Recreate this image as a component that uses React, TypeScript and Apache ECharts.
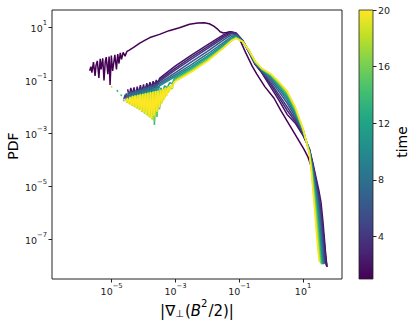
import React, { useEffect, useRef } from "react";
import * as echarts from "echarts";

// All values are log10 of the plotted quantities.
const X_TICKS = [-5, -3, -1, 1];
const Y_TICKS = [-7, -5, -3, -1, 1];
const CBAR_TICKS = [4, 8, 12, 16, 20];
const TIMES = [1, 2, 3, 4, 6, 8, 10, 12, 14, 16, 18, 20];

const X_MAIN = [-3.5, -3.0, -2.5, -2.0, -1.5, -1.25, -1.1, -0.9, -0.7, -0.5, -0.3, 0, 0.25, 0.5, 0.75, 1.0, 1.2];

const T1 = [[-5.69,-0.65],[-5.65,-0.5],[-5.62,-0.72],[-5.57,-0.33],[-5.52,-0.85],[-5.49,-0.45],[-5.45,-0.28],[-5.4,-0.92],[-5.36,-0.2],[-5.33,-0.6],[-5.28,-0.18],[-5.24,-1.02],[-5.2,-0.3],[-5.17,-0.14],[-5.12,-0.78],[-5.08,-0.12],[-5.05,-1.19],[-5.01,-0.08],[-4.97,-0.66],[-4.94,-0.4],[-4.9,-0.05],[-4.85,-0.6],[-4.81,-0.02],[-4.77,-0.38],[-4.73,0.02],[-4.69,-0.22],[-4.64,0.04],[-4.58,-0.1],[-4.52,0.08],[-4.46,0.12],[-4.3,0.24],[-4.13,0.38],[-3.95,0.5],[-3.8,0.6],[-3.5,0.72],[-3.2,0.86],[-2.875,0.97],[-2.56,1.1],[-2.3,1.15],[-2.1,1.16],[-1.94,1.12],[-1.8,1.03],[-1.69,0.93],[-1.6,0.82],[-1.5,0.77],[-1.4,0.79],[-1.3,0.82],[-1.2,0.78],[-1.0,0.57],[-0.8,0.03],[-0.6,-0.47],[-0.45,-0.78],[-0.2,-1.25],[0.09,-1.69],[0.3,-2.15],[0.51,-2.57],[0.75,-3.05],[1.03,-3.62],[1.15,-3.9],[1.25,-4.25],[1.35,-4.75],[1.45,-5.3],[1.55,-5.9],[1.62,-6.6],[1.68,-7.3],[1.72,-7.8],[1.75,-8.05]];

const Y_T2 = [-0.94,-0.47,-0.06,0.32,0.70,0.82,0.77,0.50,0.05,-0.42,-0.72,-1.30,-1.78,-2.30,-2.62,-3.10,-3.60];
const Y_T3 = [-1.00,-0.55,-0.14,0.25,0.64,0.79,0.76,0.50,0.06,-0.41,-0.70,-1.20,-1.67,-2.15,-2.55,-3.06,-3.62];
const Y_T4 = [-1.05,-0.62,-0.21,0.18,0.58,0.76,0.74,0.50,0.07,-0.40,-0.68,-1.12,-1.57,-2.02,-2.47,-3.02,-3.64];
const Y_T6 = [-1.12,-0.72,-0.32,0.08,0.50,0.70,0.71,0.49,0.08,-0.38,-0.65,-1.03,-1.45,-1.87,-2.38,-2.98,-3.66];
const Y_T8 = [-1.18,-0.80,-0.42,-0.02,0.41,0.63,0.67,0.48,0.09,-0.36,-0.62,-0.96,-1.35,-1.76,-2.30,-2.95,-3.68];
const Y_T10 = [-1.22,-0.86,-0.50,-0.10,0.34,0.58,0.64,0.47,0.10,-0.35,-0.60,-0.91,-1.28,-1.67,-2.24,-2.92,-3.70];
const Y_T12 = [-1.26,-0.92,-0.55,-0.15,0.29,0.54,0.62,0.46,0.11,-0.33,-0.59,-0.87,-1.22,-1.60,-2.18,-2.90,-3.72];
const Y_T14 = [-1.30,-0.97,-0.60,-0.20,0.25,0.51,0.60,0.46,0.11,-0.32,-0.58,-0.84,-1.17,-1.54,-2.13,-2.88,-3.74];
const Y_T16 = [-1.33,-1.00,-0.64,-0.24,0.22,0.49,0.59,0.45,0.12,-0.31,-0.57,-0.81,-1.13,-1.49,-2.08,-2.87,-3.76];
const Y_T18 = [-1.36,-1.03,-0.67,-0.27,0.21,0.48,0.58,0.45,0.12,-0.30,-0.56,-0.79,-1.10,-1.45,-2.04,-2.85,-3.78];
const Y_T20 = [-1.38,-1.05,-0.70,-0.30,0.20,0.47,0.57,0.45,0.12,-0.30,-0.56,-0.78,-1.08,-1.42,-2.00,-2.85,-3.80];

const NOISE_T2 = [[-4.5,-1.35],[-4.45,-1.6],[-4.4,-1.3],[-4.35,-1.55],[-4.3,-1.28],[-4.25,-1.65],[-4.2,-1.25],[-4.15,-1.5],[-4.1,-1.2],[-4.05,-1.45],[-4.0,-1.17],[-3.95,-1.5],[-3.9,-1.12],[-3.85,-1.35],[-3.8,-1.08],[-3.75,-1.3],[-3.7,-1.05],[-3.65,-1.2],[-3.6,-1.0],[-3.55,-1.12]];
const NOISE_T3 = [[-4.42,-1.5],[-4.37,-1.75],[-4.32,-1.42],[-4.27,-1.7],[-4.22,-1.38],[-4.17,-1.62],[-4.12,-1.33],[-4.07,-1.6],[-4.02,-1.27],[-3.97,-1.5],[-3.92,-1.22],[-3.87,-1.45],[-3.82,-1.18],[-3.77,-1.4],[-3.72,-1.14],[-3.67,-1.3],[-3.62,-1.08],[-3.56,-1.2]];
const NOISE_T4 = [[-4.62,-1.72],[-4.57,-1.55],[-4.52,-1.85],[-4.47,-1.5],[-4.42,-1.9],[-4.37,-1.45],[-4.32,-1.8],[-4.27,-1.42],[-4.22,-1.75],[-4.17,-1.4],[-4.12,-1.7],[-4.07,-1.35],[-4.02,-1.6],[-3.97,-1.3],[-3.92,-1.55],[-3.87,-1.25],[-3.82,-1.5],[-3.77,-1.2],[-3.72,-1.4],[-3.67,-1.15],[-3.6,-1.3],[-3.55,-1.1]];
const NOISE_T6 = [[-4.55,-1.5],[-4.51,-1.7],[-4.47,-1.46],[-4.43,-1.72],[-4.39,-1.43],[-4.35,-1.66],[-4.31,-1.4],[-4.27,-1.7],[-4.23,-1.37],[-4.19,-1.62],[-4.15,-1.35],[-4.11,-1.6],[-4.07,-1.32],[-4.03,-1.55],[-3.99,-1.29],[-3.95,-1.5],[-3.91,-1.26],[-3.87,-1.45],[-3.83,-1.23],[-3.79,-1.4],[-3.75,-1.2],[-3.7,-1.35],[-3.65,-1.17],[-3.6,-1.28],[-3.55,-1.14]];
const NOISE_T8 = [[-4.5,-1.55],[-4.46,-1.75],[-4.42,-1.5],[-4.38,-1.78],[-4.34,-1.47],[-4.3,-1.72],[-4.26,-1.44],[-4.22,-1.8],[-4.18,-1.42],[-4.14,-1.7],[-4.1,-1.39],[-4.06,-1.75],[-4.02,-1.36],[-3.98,-1.65],[-3.94,-1.33],[-3.9,-1.6],[-3.86,-1.3],[-3.82,-1.55],[-3.78,-1.28],[-3.74,-1.5],[-3.7,-1.26],[-3.65,-1.42],[-3.6,-1.23],[-3.55,-1.32]];
const NOISE_T10 = [[-4.42,-1.62],[-4.38,-1.8],[-4.34,-1.58],[-4.3,-1.82],[-4.26,-1.55],[-4.22,-1.86],[-4.18,-1.52],[-4.14,-1.9],[-4.1,-1.48],[-4.06,-1.92],[-4.02,-1.45],[-3.98,-1.95],[-3.94,-1.42],[-3.9,-1.9],[-3.86,-1.4],[-3.82,-1.85],[-3.78,-1.37],[-3.74,-1.75],[-3.7,-1.34],[-3.65,-1.6],[-3.6,-1.3],[-3.55,-1.45]];
const NOISE_T12 = [[-4.5,-1.72],[-4.46,-1.85],[-4.42,-1.66],[-4.38,-1.9],[-4.34,-1.62],[-4.3,-1.85],[-4.26,-1.6],[-4.22,-1.95],[-4.18,-1.55],[-4.14,-1.98],[-4.1,-1.52],[-4.06,-2.05],[-4.02,-1.5],[-3.98,-2.1],[-3.94,-1.46],[-3.9,-2.15],[-3.86,-1.44],[-3.82,-2.2],[-3.78,-1.42],[-3.74,-2.3],[-3.7,-1.4],[-3.66,-2.2],[-3.62,-1.36],[-3.58,-1.9],[-3.54,-1.33],[-3.5,-1.6],[-3.46,-1.3],[-3.4,-1.45],[-3.34,-1.22],[-3.26,-1.3],[-3.18,-1.1],[-3.1,-1.15],[-3.04,-0.95]];
const NOISE_T14 = [[-4.84,-1.38],[-4.8,-1.45],[-4.77,"-"],[-4.72,-1.55],[-4.68,-1.6],[-4.65,"-"],[-4.45,-1.82],[-4.41,-1.7],[-4.37,-1.88],[-4.33,-1.66],[-4.29,-1.95],[-4.25,-1.64],[-4.21,-2.0],[-4.17,-1.62],[-4.13,-2.05],[-4.09,-1.6],[-4.05,-2.12],[-4.01,-1.58],[-3.97,-2.2],[-3.93,-1.55],[-3.89,-2.28],[-3.85,-1.53],[-3.81,-2.35],[-3.77,-1.5],[-3.73,-2.45],[-3.69,-1.48],[-3.66,-2.7],[-3.62,-1.46],[-3.58,-2.4],[-3.54,-1.44],[-3.5,-2.1],[-3.46,-1.4],[-3.42,-1.85],[-3.38,-1.36],[-3.34,-1.6],[-3.3,-1.32],[-3.24,-1.45],[-3.18,-1.28],[-3.1,-1.32],[-3.04,-1.0]];
const NOISE_T16 = [[-4.64,-1.74],[-4.6,-1.8],[-4.57,"-"],[-4.5,-1.72],[-4.46,-1.85],[-4.42,-1.68],[-4.38,-1.92],[-4.34,-1.64],[-4.3,-2.0],[-4.26,-1.62],[-4.22,-2.06],[-4.18,-1.6],[-4.14,-2.12],[-4.1,-1.57],[-4.06,-2.2],[-4.02,-1.55],[-3.98,-2.25],[-3.94,-1.52],[-3.9,-2.32],[-3.86,-1.5],[-3.82,-2.4],[-3.78,-1.48],[-3.74,-2.48],[-3.7,-1.46],[-3.66,-2.55],[-3.62,-1.44],[-3.58,-2.3],[-3.54,-1.42],[-3.5,-2.0],[-3.46,-1.38],[-3.42,-1.8],[-3.38,-1.35],[-3.34,-1.6],[-3.3,-1.3],[-3.25,-1.45],[-3.2,-1.25],[-3.12,-1.3],[-3.06,-1.12]];
const NOISE_T18 = [[-5.02,-1.24],[-4.98,-1.28],[-4.95,"-"],[-4.48,-1.75],[-4.44,-1.92],[-4.4,-1.66],[-4.36,-1.98],[-4.32,-1.62],[-4.28,-2.03],[-4.24,-1.6],[-4.2,-2.08],[-4.16,-1.57],[-4.12,-2.12],[-4.08,-1.55],[-4.04,-2.2],[-4.0,-1.53],[-3.96,-2.28],[-3.92,-1.5],[-3.88,-2.35],[-3.84,-1.48],[-3.8,-2.42],[-3.76,-1.47],[-3.72,-2.5],[-3.68,-1.44],[-3.64,-2.4],[-3.6,-1.42],[-3.56,-2.2],[-3.52,-1.4],[-3.48,-2.0],[-3.44,-1.36],[-3.4,-1.8],[-3.36,-1.33],[-3.32,-1.65],[-3.28,-1.3],[-3.24,-1.5],[-3.2,-1.25],[-3.14,-1.35],[-3.08,-1.14]];
const NOISE_T20 = [[-4.55,-1.86],[-4.51,-1.68],[-4.47,-1.9],[-4.43,-1.64],[-4.39,-1.95],[-4.35,-1.6],[-4.31,-2.0],[-4.27,-1.58],[-4.23,-2.05],[-4.19,-1.56],[-4.15,-2.1],[-4.11,-1.54],[-4.07,-2.18],[-4.03,-1.52],[-3.99,-2.22],[-3.95,-1.5],[-3.91,-2.3],[-3.87,-1.48],[-3.83,-2.38],[-3.79,-1.46],[-3.75,-2.45],[-3.71,-1.45],[-3.67,-2.35],[-3.63,-1.42],[-3.59,-2.2],[-3.55,-1.4],[-3.51,-2.05],[-3.47,-1.37],[-3.43,-1.9],[-3.39,-1.33],[-3.35,-1.75],[-3.31,-1.3],[-3.27,-1.6],[-3.23,-1.25],[-3.19,-1.45],[-3.15,-1.2],[-3.1,-1.3],[-3.05,-1.1]];

const TAIL_T2 = [[1.3,-4.1],[1.4,-4.65],[1.5,-5.2],[1.56,-5.6],[1.62,-6.3],[1.67,-7.0],[1.71,-7.6],[1.75,-8.05]];
const TAIL_T3 = [[1.3,-4.15],[1.4,-4.75],[1.5,-5.35],[1.56,-5.9],[1.62,-6.6],[1.66,-7.2],[1.7,-7.8],[1.72,-8.0]];
const TAIL_T4 = [[1.3,-4.2],[1.4,-4.85],[1.5,-5.5],[1.55,-6.0],[1.6,-6.7],[1.64,-7.3],[1.68,-7.9]];
const TAIL_T6 = [[1.3,-4.25],[1.4,-4.95],[1.48,-5.6],[1.54,-6.2],[1.59,-6.9],[1.63,-7.5],[1.66,-7.95]];
const TAIL_T8 = [[1.3,-4.3],[1.38,-4.95],[1.46,-5.6],[1.52,-6.3],[1.57,-7.0],[1.61,-7.6],[1.64,-7.95]];
const TAIL_T10 = [[1.28,-4.3],[1.36,-4.95],[1.44,-5.65],[1.5,-6.35],[1.55,-7.1],[1.59,-7.7],[1.62,-7.95]];
const TAIL_T12 = [[1.28,-4.35],[1.35,-5.0],[1.42,-5.7],[1.48,-6.45],[1.53,-7.2],[1.57,-7.75],[1.6,-7.95]];
const TAIL_T14 = [[1.27,-4.35],[1.34,-5.05],[1.41,-5.8],[1.46,-6.5],[1.51,-7.25],[1.55,-7.8],[1.58,-7.95]];
const TAIL_T16 = [[1.27,-4.4],[1.33,-5.1],[1.4,-5.9],[1.45,-6.6],[1.5,-7.3],[1.53,-7.75],[1.55,-7.9]];
const TAIL_T18 = [[1.26,-4.4],[1.32,-5.15],[1.38,-5.95],[1.44,-6.75],[1.48,-7.35],[1.51,-7.75],[1.53,-7.85]];
const TAIL_T20 = [[1.26,-4.45],[1.31,-5.2],[1.37,-6.0],[1.42,-6.8],[1.46,-7.35],[1.49,-7.7],[1.5,-7.85]];

const CURVES: Record<number, { y: number[]; noise: any[]; tail: number[][] }> = {
  2: { y: Y_T2, noise: NOISE_T2, tail: TAIL_T2 },
  3: { y: Y_T3, noise: NOISE_T3, tail: TAIL_T3 },
  4: { y: Y_T4, noise: NOISE_T4, tail: TAIL_T4 },
  6: { y: Y_T6, noise: NOISE_T6, tail: TAIL_T6 },
  8: { y: Y_T8, noise: NOISE_T8, tail: TAIL_T8 },
  10: { y: Y_T10, noise: NOISE_T10, tail: TAIL_T10 },
  12: { y: Y_T12, noise: NOISE_T12, tail: TAIL_T12 },
  14: { y: Y_T14, noise: NOISE_T14, tail: TAIL_T14 },
  16: { y: Y_T16, noise: NOISE_T16, tail: TAIL_T16 },
  18: { y: Y_T18, noise: NOISE_T18, tail: TAIL_T18 },
  20: { y: Y_T20, noise: NOISE_T20, tail: TAIL_T20 },
};

const VIRIDIS = ["#440154", "#482475", "#414487", "#355f8d", "#2a788e", "#21918c", "#22a884", "#44bf70", "#7ad151", "#bddf26", "#fde725"];
const T_MIN = 1;
const T_MAX = 20;

function hexToRgb(h: string) {
  return [parseInt(h.slice(1, 3), 16), parseInt(h.slice(3, 5), 16), parseInt(h.slice(5, 7), 16)];
}
function viridis(f: number) {
  const p = Math.max(0, Math.min(1, f)) * (VIRIDIS.length - 1);
  const i = Math.min(Math.floor(p), VIRIDIS.length - 2);
  const r = p - i;
  const a = hexToRgb(VIRIDIS[i]);
  const b = hexToRgb(VIRIDIS[i + 1]);
  const c = a.map((v, k) => Math.round(v + (b[k] - v) * r));
  return `rgb(${c[0]},${c[1]},${c[2]})`;
}

function sup(v: number) {
  return (v < 0 ? "\u2212" : "") + Math.abs(v);
}

const FONT = "DejaVu Sans";

export default function App() {
  const ref = useRef<HTMLDivElement>(null);
  useEffect(() => {
    if (!ref.current) return;
    const chart = echarts.init(ref.current, null, { renderer: "svg" });

    const series = TIMES.map((t) => {
      let data: any[];
      if (t === 1) {
        data = T1;
      } else {
        const c = CURVES[t];
        const lastNoiseX = c.noise[c.noise.length - 1][0];
        const main = X_MAIN.map((x, i) => [x, c.y[i]]).filter((p) => p[0] > lastNoiseX + 0.001);
        data = [...c.noise, ...main, ...c.tail];
      }
      const col = viridis((t - T_MIN) / (T_MAX - T_MIN));
      return {
        type: "line",
        xAxisIndex: 0,
        yAxisIndex: 0,
        data,
        showSymbol: false,
        symbol: "none",
        connectNulls: false,
        lineStyle: { color: col, width: 1.5 },
        itemStyle: { color: col },
        z: 2,
      };
    });

    const tickLabel = (v: number) => `{b|10}{s|${sup(v)}}`;
    const rich = {
      b: { fontSize: 9.5, fontFamily: FONT, color: "#222", verticalAlign: "bottom", padding: [4, 0, 0, 0] },
      s: { fontSize: 6.8, fontFamily: FONT, color: "#222", verticalAlign: "top" },
    };

    chart.setOption({
      animation: false,
      grid: [
        { left: 52, top: 10, width: 290, height: 269, show: true, borderColor: "#222", borderWidth: 1, backgroundColor: "transparent" },
        { left: 359, top: 10, width: 14, height: 269, show: false },
      ],
      xAxis: [
        {
          gridIndex: 0, type: "value", min: -6.87, max: 2.22, position: "bottom",
          axisLine: { show: false, onZero: false },
          splitLine: { show: false },
          axisTick: { show: true, length: 3.5, customValues: X_TICKS, lineStyle: { color: "#222" } },
          axisLabel: { customValues: X_TICKS, formatter: tickLabel, rich, margin: 3 },
        },
        { gridIndex: 1, type: "value", min: 0, max: 1, show: false },
      ],
      yAxis: [
        {
          gridIndex: 0, type: "value", min: -8.51, max: 1.64, position: "left",
          axisLine: { show: false, onZero: false },
          splitLine: { show: false },
          axisTick: { show: true, length: 3.5, customValues: Y_TICKS, lineStyle: { color: "#222" } },
          axisLabel: { customValues: Y_TICKS, formatter: tickLabel, rich, margin: 5 },
        },
        {
          gridIndex: 1, type: "value", min: T_MIN, max: T_MAX, position: "right",
          axisLine: { show: false, onZero: false },
          splitLine: { show: false },
          axisTick: { show: true, length: 3.5, customValues: CBAR_TICKS, lineStyle: { color: "#222" } },
          axisLabel: { customValues: CBAR_TICKS, fontSize: 9.5, fontFamily: FONT, color: "#222", margin: 5 },
        },
      ],
      series,
      graphic: [
        {
          type: "rect",
          shape: { x: 359, y: 10, width: 14, height: 269 },
          style: {
            fill: new echarts.graphic.LinearGradient(0, 0, 0, 1, VIRIDIS.slice().reverse().map((c, i) => ({ offset: i / (VIRIDIS.length - 1), color: c }))),
            stroke: "#222",
            lineWidth: 0.8,
          },
          z: 0,
        },
        {
          type: "text", x: 13, y: 146, rotation: Math.PI / 2,
          style: { text: "PDF", fontSize: 14, fontFamily: FONT, fill: "#000", align: "center", verticalAlign: "middle" },
        },
        {
          type: "text", x: 402, y: 142, rotation: Math.PI / 2,
          style: { text: "time", fontSize: 14, fontFamily: FONT, fill: "#000", align: "center", verticalAlign: "middle" },
        },
        {
          type: "text", x: 197, y: 308,
          style: {
            text: "{n||\u2207}{sub|\u22A5}{n|(}{i|B}{sup|2}{n|/2)|}",
            align: "center", verticalAlign: "middle",
            rich: {
              n: { fontSize: 15, fontFamily: FONT, fill: "#000", verticalAlign: "bottom", padding: [5, 0, 0, 0] },
              i: { fontSize: 15, fontFamily: FONT, fontStyle: "italic", fill: "#000", verticalAlign: "bottom", padding: [5, 0, 0, 0] },
              sub: { fontSize: 10, fontFamily: FONT, fill: "#000", verticalAlign: "bottom", padding: [0, 1, 0, 0] },
              sup: { fontSize: 10, fontFamily: FONT, fill: "#000", verticalAlign: "top", padding: [0, 1, 0, 0] },
            },
          },
        },
      ],
    });
    return () => chart.dispose();
  }, []);
  return <div ref={ref} style={{ width: 415, height: 323, position: "absolute", left: 0, top: 0 }} />;
}
